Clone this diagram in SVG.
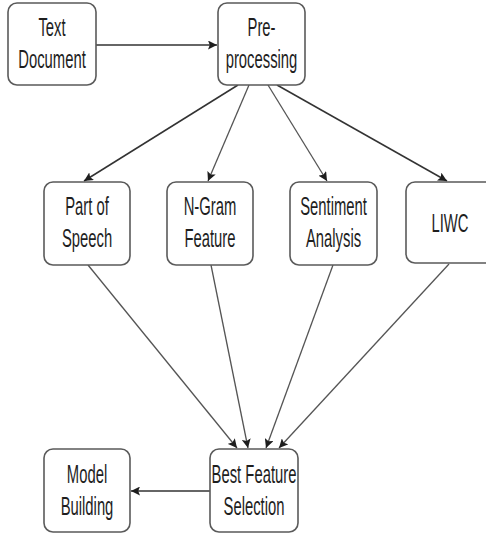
<svg xmlns="http://www.w3.org/2000/svg" width="486" height="535" viewBox="0 0 486 535">
<defs>
<style>
.box{fill:#fff;stroke:#5a5a5a;stroke-width:1.6}
.t{font-family:"Liberation Sans",Arial,sans-serif;font-size:26px;fill:#1e1e1e;text-anchor:middle}
.c{fill:none;stroke:#333;stroke-width:1.5}
.g{fill:none;stroke:#555;stroke-width:1.3}
</style>
<marker id="ah" viewBox="0 0 10 10" refX="10" refY="5" markerWidth="9" markerHeight="9" markerUnits="userSpaceOnUse" orient="auto">
<path d="M0,0 L10,5 L0,10 L2,5 Z" fill="#1e1e1e"/>
</marker>
</defs>
<rect width="486" height="535" fill="#fff"/>
<g id="connectors">
<line class="c" x1="96" y1="45" x2="217" y2="45" marker-end="url(#ah)"/>
<line class="c" x1="238" y1="85" x2="84" y2="181" marker-end="url(#ah)"/>
<line class="g" x1="249" y1="85" x2="208" y2="181" marker-end="url(#ah)"/>
<line class="g" x1="268" y1="85" x2="327" y2="181" marker-end="url(#ah)"/>
<line class="c" x1="277" y1="85" x2="447" y2="181" marker-end="url(#ah)"/>
<line class="g" x1="88" y1="265" x2="237" y2="448" marker-end="url(#ah)"/>
<line class="g" x1="211" y1="265" x2="248" y2="448" marker-end="url(#ah)"/>
<line class="g" x1="333" y1="265" x2="266" y2="448" marker-end="url(#ah)"/>
<line class="g" x1="449" y1="264" x2="279" y2="448" marker-end="url(#ah)"/>
<line class="c" x1="210" y1="491" x2="131" y2="491" marker-end="url(#ah)"/>
</g>
<g id="text-document">
<rect class="box" x="8" y="3" width="88" height="82" rx="9"/>
<text class="t" transform="translate(52,0) scale(0.57,1)"><tspan x="0" y="36">Text</tspan><tspan x="0" y="68">Document</tspan></text>
</g>
<g id="pre-processing">
<rect class="box" x="218" y="3" width="87" height="82" rx="9"/>
<text class="t" transform="translate(261.5,0) scale(0.57,1)"><tspan x="0" y="36">Pre-</tspan><tspan x="0" y="68">processing</tspan></text>
</g>
<g id="part-of-speech">
<rect class="box" x="44" y="182" width="86" height="83" rx="9"/>
<text class="t" transform="translate(87,0) scale(0.57,1)"><tspan x="0" y="215">Part of</tspan><tspan x="0" y="247">Speech</tspan></text>
</g>
<g id="n-gram-feature">
<rect class="box" x="167" y="182" width="86" height="83" rx="9"/>
<text class="t" transform="translate(210,0) scale(0.57,1)"><tspan x="0" y="215">N-Gram</tspan><tspan x="0" y="247">Feature</tspan></text>
</g>
<g id="sentiment-analysis">
<rect class="box" x="290" y="182" width="87" height="83" rx="9"/>
<text class="t" transform="translate(333.5,0) scale(0.57,1)"><tspan x="0" y="215">Sentiment</tspan><tspan x="0" y="247">Analysis</tspan></text>
</g>
<g id="liwc">
<rect class="box" x="406" y="182" width="88" height="81" rx="9"/>
<text class="t" transform="translate(450,0) scale(0.57,1)"><tspan x="0" y="232">LIWC</tspan></text>
</g>
<g id="model-building">
<rect class="box" x="44" y="449" width="86" height="83" rx="9"/>
<text class="t" transform="translate(87,0) scale(0.57,1)"><tspan x="0" y="483">Model</tspan><tspan x="0" y="515">Building</tspan></text>
</g>
<g id="best-feature-selection">
<rect class="box" x="210" y="449" width="88" height="83" rx="9"/>
<text class="t" transform="translate(254,0) scale(0.57,1)"><tspan x="0" y="483">Best Feature</tspan><tspan x="0" y="515">Selection</tspan></text>
</g>
</svg>
